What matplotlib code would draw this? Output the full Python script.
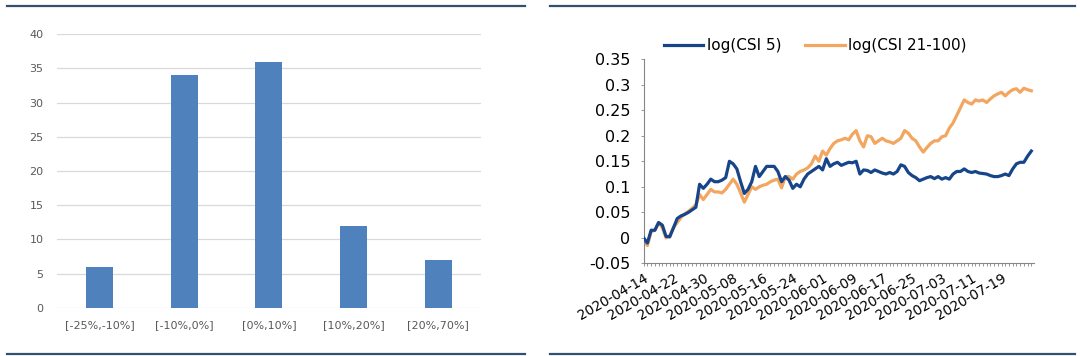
import numpy as np
import pandas as pd
import matplotlib
matplotlib.use("Agg")
import matplotlib.pyplot as plt
import matplotlib.dates as mdates
from matplotlib.lines import Line2D

plt.rcParams["font.family"] = ["DejaVu Sans"]

# ---- left: distribution of returns ----
BINS = ["[-25%,-10%]", "[-10%,0%]", "[0%,10%]", "[10%,20%]", "[20%,70%]"]
COUNTS = [6, 34, 36, 12, 7]

# ---- right: log index levels, day offset from 2020-04-14 ----
START = "2020-04-14"
DAY = list(range(105))
CSI5 = [0.0, -0.01, 0.015, 0.015, 0.03, 0.025, 0.003, 0.002, 0.02, 0.038,
        0.043, 0.046, 0.05, 0.055, 0.06, 0.105, 0.097, 0.105, 0.115, 0.11,
        0.11, 0.113, 0.118, 0.15, 0.145, 0.135, 0.11, 0.087, 0.095, 0.11,
        0.14, 0.12, 0.13, 0.14, 0.14, 0.14, 0.13, 0.11, 0.12, 0.113,
        0.097, 0.105, 0.1, 0.115, 0.125, 0.13, 0.135, 0.14, 0.133, 0.155,
        0.14, 0.145, 0.148, 0.142, 0.145, 0.148, 0.147, 0.15, 0.125, 0.133,
        0.132, 0.128, 0.133, 0.13, 0.127, 0.125, 0.128, 0.125, 0.13, 0.143,
        0.14, 0.128, 0.122, 0.118, 0.112, 0.115, 0.118, 0.12, 0.116, 0.12,
        0.115, 0.118, 0.115, 0.125, 0.13, 0.13, 0.135, 0.13, 0.128, 0.13,
        0.127, 0.126, 0.125, 0.122, 0.12, 0.12, 0.122, 0.125, 0.122, 0.135,
        0.145, 0.148, 0.148, 0.16, 0.17]
CSI21_100 = [-0.005, -0.015, 0.012, 0.015, 0.03, 0.02, 0.0, 0.005, 0.02, 0.03,
             0.04, 0.047, 0.052, 0.058, 0.065, 0.085, 0.075, 0.085, 0.095, 0.09,
             0.09, 0.088, 0.095, 0.105, 0.115, 0.105, 0.088, 0.07, 0.085, 0.1,
             0.095, 0.1, 0.103, 0.105, 0.11, 0.113, 0.115, 0.098, 0.12, 0.12,
             0.115, 0.125, 0.13, 0.133, 0.137, 0.145, 0.16, 0.15, 0.17, 0.162,
             0.175, 0.185, 0.19, 0.192, 0.195, 0.192, 0.203, 0.21, 0.19, 0.178,
             0.2, 0.198, 0.185, 0.19, 0.195, 0.19, 0.188, 0.185, 0.19, 0.195,
             0.21, 0.205, 0.195, 0.19, 0.178, 0.168, 0.177, 0.185, 0.19, 0.19,
             0.198, 0.2, 0.215, 0.225, 0.24, 0.255, 0.27, 0.265, 0.262, 0.27,
             0.268, 0.27, 0.265, 0.272, 0.278, 0.282, 0.285, 0.278, 0.285, 0.29,
             0.292, 0.285, 0.293, 0.29, 0.288]

C_BAR = "#4F81BD"
C_BLUE = "#17458A"
C_ORANGE = "#F2A660"
C_RULE = "#33506E"

fig = plt.figure(figsize=(10.8, 3.56), dpi=100)

# 上下の区切り線
for x0, x1 in [(7, 525), (550, 1075)]:
    for yy in (5.5, 354):
        fig.add_artist(Line2D([x0 / 1080, x1 / 1080], [1 - yy / 356] * 2,
                              color=C_RULE, lw=1.6, transform=fig.transFigure))

# ---- left panel ----
ax = fig.add_axes([0.053, 0.135, 0.392, 0.769])
x = np.arange(len(BINS))
ax.bar(x, COUNTS, width=0.32, color=C_BAR, zorder=3)
ax.set_xlim(-0.5, len(BINS) - 0.5)
ax.set_ylim(0, 40)
ax.set_yticks(range(0, 41, 5))
ax.set_xticks(x)
ax.set_xticklabels(BINS)
ax.yaxis.grid(True, color="#D9D9D9", lw=0.9, zorder=0)
for s in ax.spines.values():
    s.set_visible(False)
ax.tick_params(axis="both", length=0, labelsize=8, colors="#595959")
ax.tick_params(axis="y", pad=10)
ax.tick_params(axis="x", pad=9)

# ---- right panel ----
ax2 = fig.add_axes([0.596, 0.26, 0.361, 0.574])
dates = pd.Timestamp(START) + pd.to_timedelta(DAY, unit="D")
ax2.plot(dates, CSI5, color=C_BLUE, lw=2.3, label="log(CSI 5)", zorder=3)
ax2.plot(dates, CSI21_100, color=C_ORANGE, lw=2.3, label="log(CSI 21-100)", zorder=2)
ax2.set_ylim(-0.05, 0.35)
ax2.set_yticks(np.arange(-0.05, 0.351, 0.05))
ax2.set_yticklabels(["-0.05", "0", "0.05", "0.1", "0.15", "0.2", "0.25", "0.3", "0.35"])
t0 = pd.Timestamp(START)
ax2.set_xlim(t0, t0 + pd.Timedelta(days=104.6))
major = [t0 + pd.Timedelta(days=8 * k) for k in range(13)]
ax2.set_xticks(major)
ax2.set_xticklabels([d.strftime("%Y-%m-%d") for d in major], rotation=30,
                    ha="right", rotation_mode="anchor", fontsize=9.8)
ax2.set_xticks([t0 + pd.Timedelta(days=k) for k in range(105)], minor=True)
ax2.tick_params(axis="x", which="both", length=2.5, width=0.6, color="#868686", pad=3)
ax2.tick_params(axis="y", length=2.5, width=0.6, color="#868686", labelsize=11.5, pad=7)
for s in ["top", "right"]:
    ax2.spines[s].set_visible(False)
for s in ["left", "bottom"]:
    ax2.spines[s].set_color("#868686")
    ax2.spines[s].set_linewidth(0.8)
ax2.legend(loc="lower center", bbox_to_anchor=(0.44, 1.0), ncol=2, frameon=False,
           fontsize=11, handlelength=2.6, columnspacing=1.6, handletextpad=0.2,
           borderaxespad=0)

fig.savefig("out.png", dpi=100)
